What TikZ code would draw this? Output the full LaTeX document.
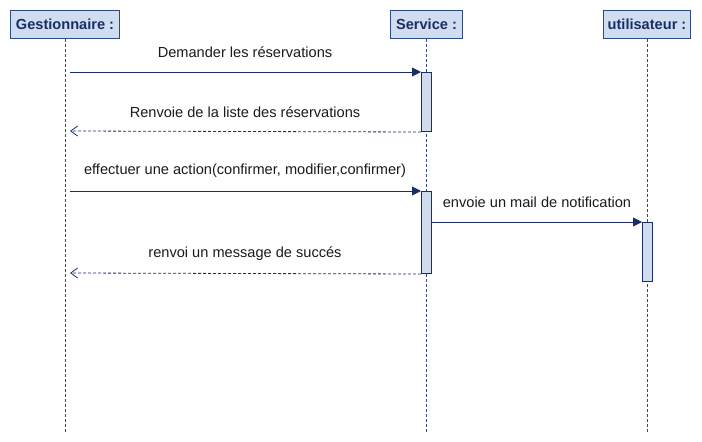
\documentclass[tikz,border=0pt]{standalone}
\usepackage{fontspec}
\setmainfont{Liberation Sans}
\usetikzlibrary{arrows.meta}
\definecolor{boxfill}{HTML}{D0DCF0}
\definecolor{boxline}{HTML}{2F4A80}
\definecolor{navy}{HTML}{1A2E66}
\definecolor{txt}{HTML}{1A1A1A}
\tikzset{
  x=1pt,y=-1pt,
  actor/.style={draw=boxline,fill=boxfill,line width=1pt,inner sep=0pt,anchor=north west,font=\fontsize{14.6}{16}\selectfont\bfseries,text=navy},
  life/.style={draw=boxline,dash pattern=on 3pt off 2pt,line width=0.8pt},
  act/.style={draw=navy,fill=boxfill,line width=1pt},
  msg/.style={draw=navy,line width=0.9pt,-{Triangle[length=9pt,width=9pt]}},
  ret/.style={draw=navy,line width=0.8pt,dash pattern=on 3pt off 2pt,-{Straight Barb[length=7pt,width=10pt]}},
  lbl/.style={font=\fontsize{14.6}{16}\selectfont,text=txt,inner sep=0pt}
}
\begin{document}
\begin{tikzpicture}
\useasboundingbox (0,0) rectangle (702,442);
% actors
\node[actor,minimum width=109pt,minimum height=28pt] (g) at (10,10) {Gestionnaire :};
\node[actor,minimum width=72pt,minimum height=28pt] (s) at (390,10) {Service :};
\node[actor,minimum width=87pt,minimum height=28pt] (u) at (603,10) {utilisateur :};
% lifelines
\coordinate (gend) at (65,432);
\coordinate (send) at (426,432);
\coordinate (uend) at (647,432);
\draw[life] (g.south -| gend) -- (gend);
\draw[life] (s.south -| send) -- (send);
\draw[life] (u.south -| uend) -- (uend);
% activations
\node[act,draw,minimum width=10pt,minimum height=59pt,inner sep=0pt,anchor=north west] (a1) at (421,72) {};
\node[act,draw,minimum width=10pt,minimum height=82pt,inner sep=0pt,anchor=north west] (a2) at (421,191) {};
\node[act,draw,minimum width=10pt,minimum height=59pt,inner sep=0pt,anchor=north west] (a3) at (642,222) {};
% message endpoints
\coordinate (g1) at (70,72);
\coordinate (g2) at (70,131);
\coordinate (g3) at (70,191);
\coordinate (g5) at (70,273);
% messages
\draw[msg] (g1) -- (a1.north west);
\node[lbl] (l1) at (245,52) {Demander les réservations};
\draw[ret] (a1.south west) -- (g2);
\node[lbl] (l2) at (245,112) {Renvoie de la liste des réservations};
\draw[msg] (g3) -- (a2.north west);
\node[lbl] (l3) at (245,171) {effectuer une action(confirmer, modifier,confirmer)};
\draw[msg] (a2.west |- a3.north) ++(10,0) coordinate (m4s) -- (a3.north west);
\node[lbl] (l4) at (537,202) {envoie un mail de notification};
\draw[ret] (a2.south west) -- (g5);
\node[lbl] (l5) at (245,254) {renvoi un message de succés};
\end{tikzpicture}
\end{document}
